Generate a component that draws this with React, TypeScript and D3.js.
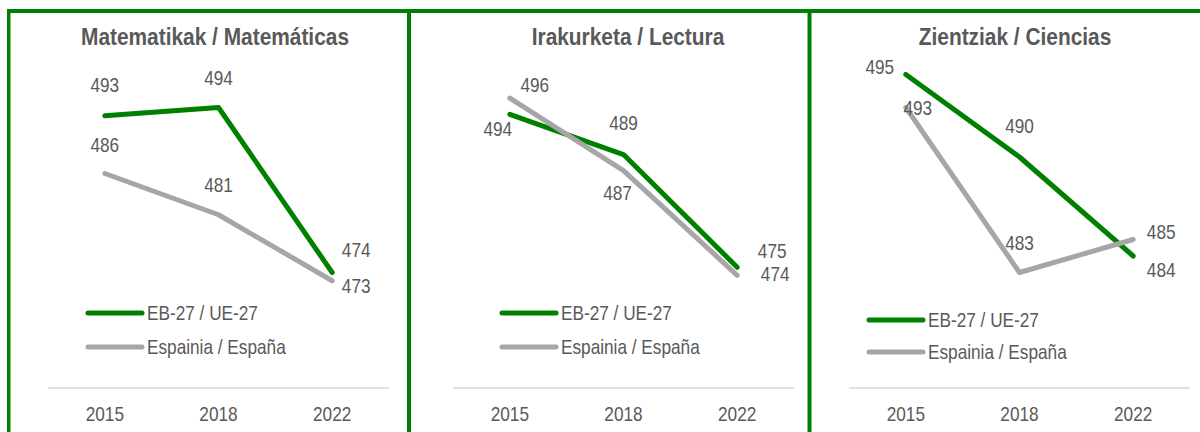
import React from "react";
import * as d3 from "d3";

const categories = ["2015", "2018", "2022"];
const seriesNames = ["EB-27 / UE-27", "Espainia / España"];
const titles = ["Matematikak / Matemáticas", "Irakurketa / Lectura", "Zientziak / Ciencias"];

const mathEU = [493, 494, 474];
const mathES = [486, 481, 473];
const readEU = [494, 489, 475];
const readES = [496, 487, 474];
const sciEU = [495, 490, 484];
const sciES = [493, 483, 485];

const panelData = [
  [mathEU, mathES],
  [readEU, readES],
  [sciEU, sciES],
];

const GREEN = "#008000";
const GREY = "#A6A6A6";
const TEXT = "#595959";
const FONT = "'Liberation Sans', Arial, sans-serif";
const SX = 0.82;
const SX_TITLE = 0.87;

// layout per panel
const layouts = [
  {
    x0: 48, x1: 389, yTop: 58, domain: [460, 500], titleX: 215,
    legendX: 88, legendY: [313, 347],
    labelOff: [
      [[0, -31], [0, -30], [24, -23]],
      [[0, -29], [0, -30], [24, 5]],
    ],
  },
  {
    x0: 453, x1: 794, yTop: 66, domain: [460, 500], titleX: 628,
    legendX: 502, legendY: [313, 347],
    labelOff: [
      [[-12, 15], [0, -32], [35, -16]],
      [[25, -13], [-6, 22], [38, -1]],
    ],
  },
  {
    x0: 849, x1: 1190, yTop: 58, domain: [476, 496], titleX: 1015,
    legendX: 869, legendY: [320, 352],
    labelOff: [
      [[-26, -8], [0, -31], [28, 14]],
      [[12, 0], [0, -30], [28, -8]],
    ],
  },
];

const colors = [GREEN, GREY];

function NText({
  x, y, children, anchor = "middle", size = 21, bold = false, central = false, sx = SX,
}: {
  x: number; y: number; children: React.ReactNode; anchor?: string; size?: number; bold?: boolean; central?: boolean; sx?: number;
}) {
  return (
    <text
      transform={`translate(${x},${y}) scale(${sx},1)`}
      textAnchor={anchor}
      dominantBaseline={central ? "central" : undefined}
      fontFamily={FONT}
      fontWeight={bold ? "bold" : "normal"}
      fontSize={size}
      fill={TEXT}
    >
      {children}
    </text>
  );
}

function Panel({ idx }: { idx: number }) {
  const L = layouts[idx];
  const data = panelData[idx];
  const x = d3.scaleBand<string>().domain(categories).range([L.x0, L.x1]);
  const y = d3.scaleLinear().domain(L.domain).range([388, L.yTop]);
  const cx = (c: string) => (x(c) as number) + x.bandwidth() / 2;
  const line = d3
    .line<number>()
    .x((_, i) => cx(categories[i]))
    .y((v) => y(v));
  return (
    <g>
      <NText x={L.titleX} y={45} size={24} bold sx={SX_TITLE}>
        {titles[idx]}
      </NText>
      <line x1={L.x0} x2={L.x1} y1={388} y2={388} stroke="#D9D9D9" strokeWidth={1.5} />
      {categories.map((c) => (
        <NText key={c} x={cx(c)} y={421}>
          {c}
        </NText>
      ))}
      {data.map((s, si) => (
        <path
          key={si}
          d={line(s) as string}
          fill="none"
          stroke={colors[si]}
          strokeWidth={5}
          strokeLinecap="round"
          strokeLinejoin="round"
        />
      ))}
      {data.map((s, si) =>
        s.map((v, i) => (
          <NText
            key={si + "-" + i}
            x={cx(categories[i]) + L.labelOff[si][i][0]}
            y={y(v) + L.labelOff[si][i][1]}
            central
          >
            {v}
          </NText>
        ))
      )}
      {seriesNames.map((n, si) => (
        <g key={n}>
          <line
            x1={L.legendX}
            x2={L.legendX + 54}
            y1={L.legendY[si]}
            y2={L.legendY[si]}
            stroke={colors[si]}
            strokeWidth={5}
            strokeLinecap="round"
          />
          <NText x={L.legendX + 59} y={L.legendY[si]} anchor="start" central>
            {n}
          </NText>
        </g>
      ))}
    </g>
  );
}

export default function App() {
  return (
    <svg
      width={1200}
      height={432}
      style={{ position: "absolute", left: 0, top: 0, background: "#fff" }}
    >
      <rect width={1200} height={432} fill="#fff" />
      <rect x={7} y={9} width={1193} height={4} fill={GREEN} />
      <rect x={7} y={9} width={3.5} height={423} fill={GREEN} />
      <rect x={407} y={9} width={4} height={423} fill={GREEN} />
      <rect x={807.5} y={9} width={4} height={423} fill={GREEN} />
      {[0, 1, 2].map((i) => (
        <Panel key={i} idx={i} />
      ))}
    </svg>
  );
}
